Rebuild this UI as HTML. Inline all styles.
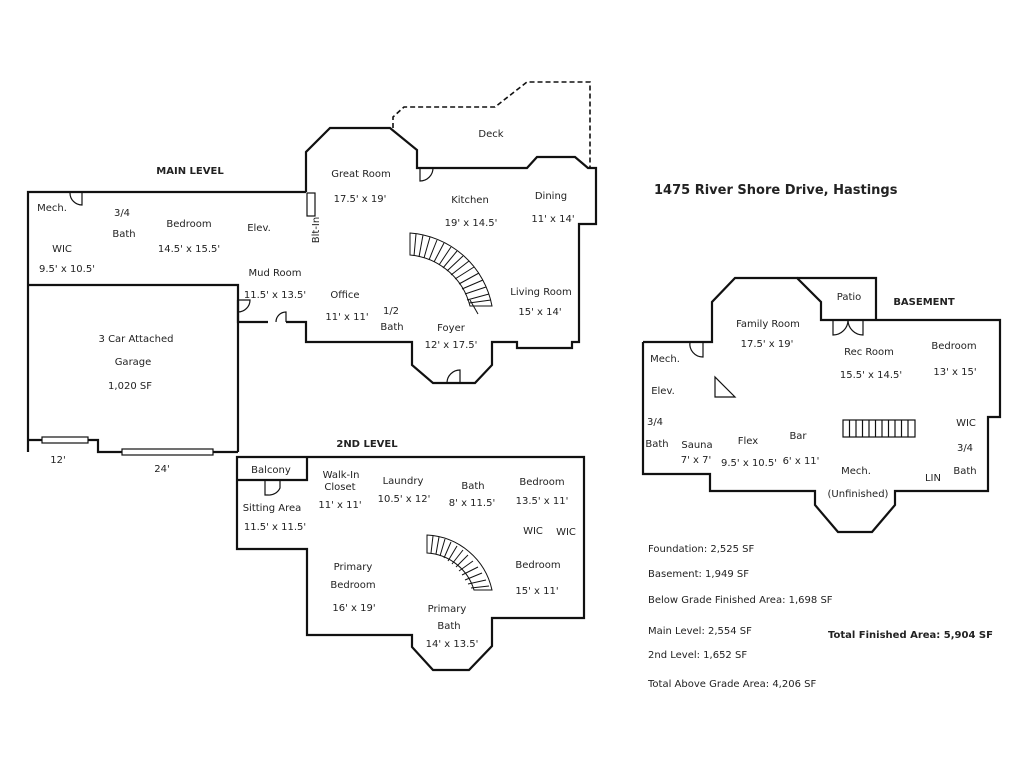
<!DOCTYPE html>
<html><head><meta charset="utf-8"><style>
html,body{margin:0;padding:0;background:#fff;}
svg{display:block;}
text{font-family:"DejaVu Sans","Liberation Sans",sans-serif;font-size:10px;fill:#222;}
.c{text-anchor:middle;}
.b{font-weight:bold;}
</style></head><body>
<svg width="1024" height="768" viewBox="0 0 1024 768" xmlns="http://www.w3.org/2000/svg">
<g fill="none" stroke="#111" stroke-width="2.2" stroke-linejoin="miter">
<polyline points="306,192 28,192 28,452"/>
<polyline points="28,285 238,285 238,452"/>
<polyline points="28,440 98,440 98,452 238,452"/>
<polyline points="238,300 238,322 268,322"/>
<polyline points="286,322 306,322 306,342 412,342 412,365 433,383 475,383 492,365 492,342 517,342 517,348 572,348 572,342 579,342 579,224 596,224 596,168 588,168 575,157 537,157 527,168 417,168 417,150 390,128 330,128 306,152 306,192"/>
<rect x="42" y="437" width="46" height="6" stroke-width="1.2" fill="#fff"/>
<rect x="122" y="449" width="91" height="6" stroke-width="1.2" fill="#fff"/>
<rect x="307" y="193" width="8" height="23" stroke-width="1.2"/>
</g>
<polyline points="393,128 393,117 404,107 495,107 527,82 590,82 590,168" fill="none" stroke="#111" stroke-width="1.6" stroke-dasharray="5,3"/>
<g fill="none" stroke="#111" stroke-width="1.2">
<path d="M82,193 L82,205 A12,12 0 0 1 70,193"/>
<path d="M420,168 L420,181 A13,13 0 0 0 433,168"/>
<path d="M238,300 L250,300 A12,12 0 0 1 238,312"/>
<path d="M286,322 L286,312 A10,10 0 0 0 276,322"/>
<path d="M460,383 L460,370 A13,13 0 0 0 447,383"/>
</g>
<g fill="none" stroke="#111" stroke-width="1">
<path d="M410,233 A90,90 0 0 1 492,306 L470,306 A68,68 0 0 0 410,255 Z"/>
<line x1="416" y1="234" x2="414" y2="256"/><line x1="423" y1="235" x2="419" y2="257"/><line x1="430" y1="237" x2="424" y2="258"/><line x1="437" y1="240" x2="429" y2="260"/><line x1="444" y1="243" x2="434" y2="262"/><line x1="451" y1="247" x2="439" y2="265"/><line x1="457" y1="251" x2="443" y2="268"/><line x1="463" y1="256" x2="447" y2="271"/><line x1="469" y1="261" x2="451" y2="275"/><line x1="474" y1="267" x2="455" y2="279"/><line x1="479" y1="273" x2="459" y2="284"/><line x1="483" y1="280" x2="462" y2="289"/><line x1="486" y1="287" x2="465" y2="294"/><line x1="489" y1="294" x2="467" y2="300"/><line x1="491" y1="300" x2="469" y2="303"/>
<line x1="470" y1="300" x2="478" y2="314"/>
</g>
<g fill="none" stroke="#111" stroke-width="2.2">
<polyline points="307,457 584,457 584,618 492,618 492,646 469,670 433,670 412,647 412,635 307,635 307,549 237,549 237,457 307,457 307,480 237,480"/>
</g>
<path d="M280,480 L280,488 A12,12 0 0 1 268,495 L265,495 L265,480" fill="none" stroke="#111" stroke-width="1.2"/>
<g fill="none" stroke="#111" stroke-width="1">
<path d="M427,535 A70,70 0 0 1 492,590 L474,590 A52,52 0 0 0 427,553 Z"/>
<line x1="433" y1="536" x2="431" y2="553"/><line x1="439" y1="537" x2="436" y2="554"/><line x1="445" y1="539" x2="440" y2="556"/><line x1="451" y1="542" x2="444" y2="558"/><line x1="457" y1="546" x2="448" y2="561"/><line x1="463" y1="550" x2="452" y2="564"/><line x1="468" y1="555" x2="456" y2="567"/><line x1="473" y1="561" x2="459" y2="571"/><line x1="478" y1="567" x2="462" y2="575"/><line x1="482" y1="573" x2="465" y2="580"/><line x1="486" y1="580" x2="468" y2="584"/><line x1="489" y1="586" x2="471" y2="588"/>
</g>
<g fill="none" stroke="#111" stroke-width="2.2">
<polyline points="643,342 643,474 710,474 710,491 815,491 815,505 838,532 872,532 895,505 895,491 988,491 988,417 1000,417 1000,320 821,320 821,302 797,278 735,278 712,302 712,342 643,342"/>
<polyline points="797,278 876,278 876,320"/>
</g>
<g fill="none" stroke="#111" stroke-width="1.2">
<path d="M703,342 L703,357 A13,13 0 0 1 690,342"/>
<path d="M833,320 L833,335 A15,15 0 0 0 848,320 A15,15 0 0 0 863,335 L863,320"/>
<polygon points="715,377 715,397 735,397"/>
<rect x="843" y="420" width="72" height="17"/>
<line x1="849.5" y1="420" x2="849.5" y2="437"/><line x1="856" y1="420" x2="856" y2="437"/><line x1="862.5" y1="420" x2="862.5" y2="437"/><line x1="869" y1="420" x2="869" y2="437"/><line x1="875.5" y1="420" x2="875.5" y2="437"/><line x1="882" y1="420" x2="882" y2="437"/><line x1="888.5" y1="420" x2="888.5" y2="437"/><line x1="895" y1="420" x2="895" y2="437"/><line x1="901.5" y1="420" x2="901.5" y2="437"/><line x1="908" y1="420" x2="908" y2="437"/>
</g>
<text x="190" y="174" class="c b">MAIN LEVEL</text>
<text x="52" y="211" class="c">Mech.</text>
<text x="122" y="216" class="c">3/4</text>
<text x="124" y="237" class="c">Bath</text>
<text x="189" y="227" class="c">Bedroom</text>
<text x="189" y="252" class="c">14.5' x 15.5'</text>
<text x="259" y="231" class="c">Elev.</text>
<text x="62" y="252" class="c">WIC</text>
<text x="67" y="272" class="c">9.5' x 10.5'</text>
<text x="275" y="276" class="c">Mud Room</text>
<text x="275" y="298" class="c">11.5' x 13.5'</text>
<text x="361" y="177" class="c">Great Room</text>
<text x="360" y="202" class="c">17.5' x 19'</text>
<text x="319" y="230" class="c" transform="rotate(-90 319 230)">Blt-In</text>
<text x="470" y="203" class="c">Kitchen</text>
<text x="471" y="226" class="c">19' x 14.5'</text>
<text x="551" y="199" class="c">Dining</text>
<text x="553" y="222" class="c">11' x 14'</text>
<text x="345" y="298" class="c">Office</text>
<text x="347" y="320" class="c">11' x 11'</text>
<text x="391" y="314" class="c">1/2</text>
<text x="392" y="330" class="c">Bath</text>
<text x="451" y="331" class="c">Foyer</text>
<text x="451" y="348" class="c">12' x 17.5'</text>
<text x="541" y="295" class="c">Living Room</text>
<text x="540" y="315" class="c">15' x 14'</text>
<text x="491" y="137" class="c">Deck</text>
<text x="136" y="342" class="c">3 Car Attached</text>
<text x="133" y="365" class="c">Garage</text>
<text x="130" y="389" class="c">1,020 SF</text>
<text x="58" y="463" class="c">12'</text>
<text x="162" y="472" class="c">24'</text>
<text x="367" y="447" class="c b">2ND LEVEL</text>
<text x="271" y="473" class="c">Balcony</text>
<text x="341" y="478" class="c">Walk-In</text>
<text x="340" y="490" class="c">Closet</text>
<text x="340" y="508" class="c">11' x 11'</text>
<text x="272" y="511" class="c">Sitting Area</text>
<text x="275" y="530" class="c">11.5' x 11.5'</text>
<text x="403" y="484" class="c">Laundry</text>
<text x="404" y="502" class="c">10.5' x 12'</text>
<text x="473" y="489" class="c">Bath</text>
<text x="472" y="506" class="c">8' x 11.5'</text>
<text x="542" y="485" class="c">Bedroom</text>
<text x="542" y="504" class="c">13.5' x 11'</text>
<text x="533" y="534" class="c">WIC</text>
<text x="566" y="535" class="c">WIC</text>
<text x="538" y="568" class="c">Bedroom</text>
<text x="537" y="594" class="c">15' x 11'</text>
<text x="353" y="570" class="c">Primary</text>
<text x="353" y="588" class="c">Bedroom</text>
<text x="354" y="611" class="c">16' x 19'</text>
<text x="447" y="612" class="c">Primary</text>
<text x="449" y="629" class="c">Bath</text>
<text x="452" y="647" class="c">14' x 13.5'</text>
<text x="654" y="194" class="b" style="font-size:13px">1475 River Shore Drive, Hastings</text>
<text x="849" y="300" class="c">Patio</text>
<text x="924" y="305" class="c b">BASEMENT</text>
<text x="768" y="327" class="c">Family Room</text>
<text x="767" y="347" class="c">17.5' x 19'</text>
<text x="869" y="355" class="c">Rec Room</text>
<text x="871" y="378" class="c">15.5' x 14.5'</text>
<text x="954" y="349" class="c">Bedroom</text>
<text x="955" y="375" class="c">13' x 15'</text>
<text x="665" y="362" class="c">Mech.</text>
<text x="663" y="394" class="c">Elev.</text>
<text x="655" y="425" class="c">3/4</text>
<text x="657" y="447" class="c">Bath</text>
<text x="697" y="448" class="c">Sauna</text>
<text x="696" y="463" class="c">7' x 7'</text>
<text x="748" y="444" class="c">Flex</text>
<text x="749" y="466" class="c">9.5' x 10.5'</text>
<text x="798" y="439" class="c">Bar</text>
<text x="801" y="464" class="c">6' x 11'</text>
<text x="856" y="474" class="c">Mech.</text>
<text x="858" y="497" class="c">(Unfinished)</text>
<text x="966" y="426" class="c">WIC</text>
<text x="965" y="451" class="c">3/4</text>
<text x="965" y="474" class="c">Bath</text>
<text x="933" y="481" class="c">LIN</text>
<text x="648" y="552">Foundation: 2,525 SF</text>
<text x="648" y="577">Basement: 1,949 SF</text>
<text x="648" y="603">Below Grade Finished Area: 1,698 SF</text>
<text x="648" y="634">Main Level: 2,554 SF</text>
<text x="648" y="658">2nd Level: 1,652 SF</text>
<text x="648" y="687">Total Above Grade Area: 4,206 SF</text>
<text x="828" y="638" class="b">Total Finished Area: 5,904 SF</text>
</svg>
</body></html>
